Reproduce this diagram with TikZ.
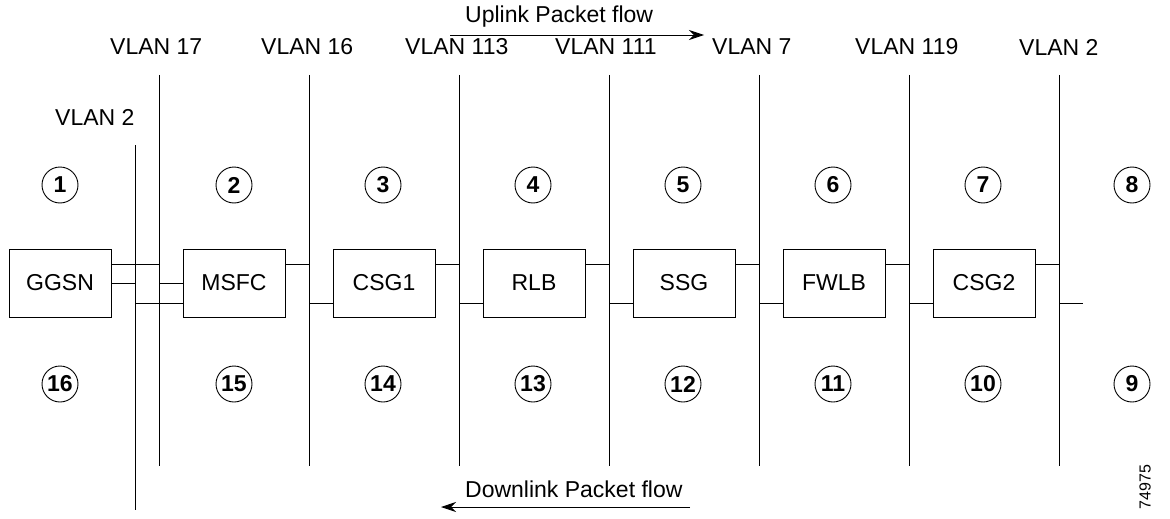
\documentclass[tikz,border=0pt]{standalone}
\usepackage{fontspec}
\setmainfont{Liberation Sans}
\usetikzlibrary{arrows.meta}
\begin{document}
\begin{tikzpicture}[x=1pt,y=-1pt,
  every node/.style={font=\fontsize{23}{26}\selectfont},
  lbl/.style={anchor=west,inner sep=0pt},
  dev/.style={draw,line width=0.8pt,minimum width=102pt,minimum height=68pt,inner sep=0pt},
  vlan/.style={line width=0.8pt},
  link/.style={line width=0.8pt},
  num/.style={draw,circle,line width=0.9pt,minimum size=36pt,inner sep=0pt,font=\fontsize{23}{26}\selectfont\bfseries},
  flow/.style={line width=0.9pt,-{Stealth[length=15pt,width=10pt]}}]
\useasboundingbox (0,0) rectangle (1170,519);

% VLAN segments
\coordinate (L2t) at (135,145); \coordinate (L2b) at (135,510);
\draw[vlan] (L2t) -- (L2b);
\foreach \n/\x in {a/159,b/309,c/459,d/609,e/759,f/909,g/1059}{
  \coordinate (\n t) at (\x,75); \coordinate (\n b) at (\x,466);
  \draw[vlan] (\n t) -- (\n b);
}

% VLAN labels
\node[lbl] (v2l) at (55,117) {VLAN 2};
\node[lbl] (v17) at (110,47) {VLAN 17};
\node[lbl] (v16) at (261,47) {VLAN 16};
\node[lbl] (v113) at (405,47) {VLAN 113};
\node[lbl] (v111) at (555,47) {VLAN 111};
\node[lbl] (v7) at (712,47) {VLAN 7};
\node[lbl] (v119) at (855,47) {VLAN 119};
\node[lbl] (v2r) at (1019,47) {VLAN 2};

% Devices
\node[dev] (ggsn) at (60,283) {GGSN};
\node[dev] (msfc) at (234,283) {MSFC};
\node[dev] (csg1) at (384,283) {CSG1};
\node[dev] (rlb) at (534,283) {RLB};
\node[dev] (ssg) at (684,283) {SSG};
\node[dev] (fwlb) at (834,283) {FWLB};
\node[dev] (csg2) at (984,283) {CSG2};

% Attachments to the VLAN segments
\draw[link] (ggsn.east |- 0,264) -- (159,264);
\draw[link] (ggsn.east |- 0,283) -- (135,283);
\draw[link] (159,283) -- (msfc.west |- 0,283);
\draw[link] (135,303) -- (msfc.west |- 0,303);
\draw[link] (msfc.east |- 0,264) -- (309,264);
\draw[link] (309,303) -- (csg1.west |- 0,303);
\draw[link] (csg1.east |- 0,264) -- (459,264);
\draw[link] (459,303) -- (rlb.west |- 0,303);
\draw[link] (rlb.east |- 0,264) -- (609,264);
\draw[link] (609,303) -- (ssg.west |- 0,303);
\draw[link] (ssg.east |- 0,264) -- (759,264);
\draw[link] (759,303) -- (fwlb.west |- 0,303);
\draw[link] (fwlb.east |- 0,264) -- (909,264);
\draw[link] (909,303) -- (csg2.west |- 0,303);
\draw[link] (csg2.east |- 0,264) -- (1059,264);
\coordinate (tail) at (1083,303);
\draw[link] (1059,303) -- (tail);

% Numbered zones
\foreach \i/\x in {1/60,2/234,3/383,4/533,5/683,6/833,7/983,8/1132}
  \node[num] (n\i) at (\x,185) {\i};
\foreach \i/\x in {16/60,15/234,14/383,13/533,12/683,11/833,10/983,9/1132}
  \node[num] (n\i) at (\x,384) {\i};

% Packet flow
\coordinate (up1) at (450,35); \coordinate (up2) at (704,35);
\draw[flow] (up1) -- (up2);
\node[lbl] (uptxt) at (465,17) {Uplink Packet flow};
\coordinate (dn1) at (690,507); \coordinate (dn2) at (441,507);
\draw[flow] (dn1) -- (dn2);
\node[lbl] (dntxt) at (465,489) {Downlink Packet flow};

\node[rotate=90,font=\fontsize{16}{18}\selectfont] (fig) at (1145,487) {74975};
\end{tikzpicture}
\end{document}
